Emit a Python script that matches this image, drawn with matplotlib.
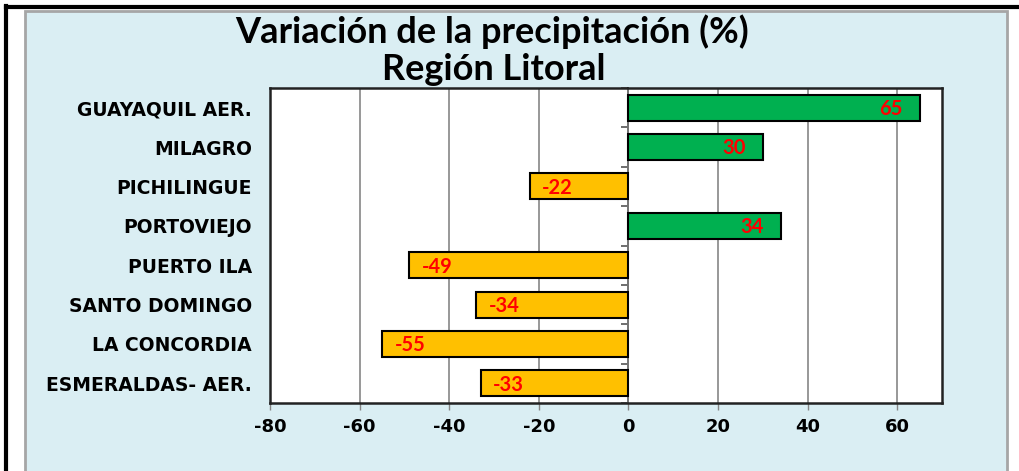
import matplotlib
matplotlib.use("Agg")
import matplotlib.pyplot as plt
from matplotlib.patches import Rectangle
from matplotlib.lines import Line2D
import numpy as np

stations = ["GUAYAQUIL AER.", "MILAGRO", "PICHILINGUE", "PORTOVIEJO",
            "PUERTO ILA", "SANTO DOMINGO", "LA CONCORDIA", "ESMERALDAS- AER."]
variation = [65, 30, -22, 34, -49, -34, -55, -33]
xticks = [-80, -60, -40, -20, 0, 20, 40, 60]
title_lines = ["Variación de la precipitación (%)", "Región Litoral"]

W, H = 1020, 471
fig = plt.figure(figsize=(W / 100, H / 100), dpi=100)
fig.patch.set_facecolor("white")

# outer decorations
fig.add_artist(Rectangle((25 / W, -0.01), (1007 - 25) / W, (471 - 11) / H + 0.01,
                         facecolor="#DAEEF3", edgecolor="#A6A6A6", lw=2, zorder=-10))
fig.add_artist(Line2D([6.5 / W, 6.5 / W], [0, 1 - 6 / H], color="black", lw=3, zorder=-5))
fig.add_artist(Line2D([6 / W, 1], [1 - 6.5 / H, 1 - 6.5 / H], color="black", lw=3, zorder=-5))

ax = fig.add_axes([270 / W, 1 - 403 / H, (942 - 270) / W, (403 - 88) / H])
ax.set_facecolor("white")

y = np.arange(len(stations))
colors = ["#00B050" if v > 0 else "#FFC000" for v in variation]
ax.barh(y, variation, height=0.66, color=colors, edgecolor="black", linewidth=1.5, zorder=3)

xmin, xmax = -80, 70
ax.set_xlim(xmin, xmax)
ax.set_ylim(len(stations) - 0.5, -0.5)
ax.set_xticks(xticks)
ax.set_xticklabels([str(t) for t in xticks], fontsize=13, fontweight="bold",
                   family="DejaVu Sans")
ax.set_yticks(y)
ax.set_yticklabels(stations, fontsize=13.5, fontweight="bold", family="DejaVu Sans")
ax.tick_params(axis="y", length=0, pad=13)
ax.tick_params(axis="x", length=5, color="#868686", width=1, pad=6)
ax.grid(axis="x", color="#868686", lw=1.2, zorder=0)
for s in ax.spines.values():
    s.set_color("#222222")
    s.set_linewidth(1.8)

# zero axis with category boundary ticks
zero_frac = (0 - xmin) / (xmax - xmin)
sec = ax.secondary_yaxis(zero_frac)
sec.set_alignment("left")
sec.set_yticks(np.arange(len(stations) + 1) - 0.5)
sec.set_yticklabels([])
sec.tick_params(axis="y", length=5, color="#555555", width=1.2, direction="out")
sec.spines["left"].set_color("black")
sec.spines["left"].set_linewidth(1.2)

for yi, v in zip(y, variation):
    if v > 0:
        ax.annotate(str(v), (v, yi), xytext=(-12, -1), textcoords="offset points",
                    ha="right", va="center", color="#FF0000", fontsize=14.5,
                    fontweight="bold", family="Lato", zorder=4)
    else:
        ax.annotate(str(v), (v, yi), xytext=(9, -1), textcoords="offset points",
                    ha="left", va="center", color="#FF0000", fontsize=14.5,
                    fontweight="bold", family="Lato", zorder=4)

fig.text(492 / W, 1 - 32 / H, title_lines[0], ha="center", va="center",
         fontsize=26, fontweight="bold", family="Lato")
fig.text(494 / W, 1 - 70 / H, title_lines[1], ha="center", va="center",
         fontsize=26, fontweight="bold", family="Lato")

fig.savefig("out.png", dpi=100, facecolor=fig.get_facecolor())
